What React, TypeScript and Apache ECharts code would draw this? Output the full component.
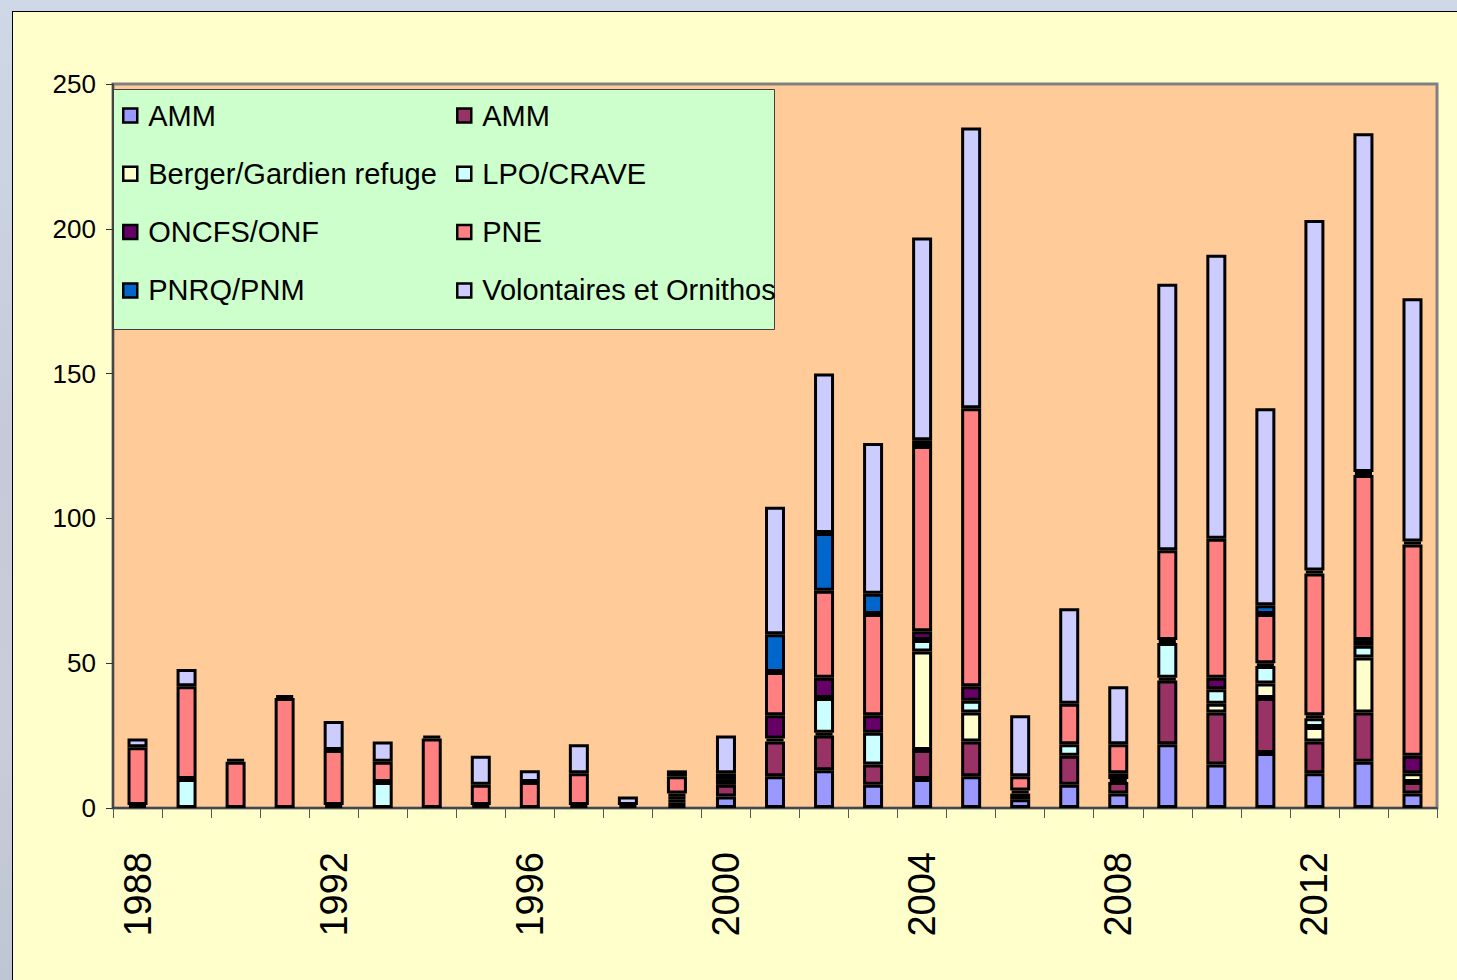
import React, { useEffect, useRef } from "react";
import * as echarts from "echarts";

const years = [
  "1988", "1989", "1990", "1991", "1992", "1993", "1994", "1995", "1996",
  "1997", "1998", "1999", "2000", "2001", "2002", "2003", "2004", "2005",
  "2006", "2007", "2008", "2009", "2010", "2011", "2012", "2013", "2014",
];

const amm1 = [0, 0, 0, 0, 0, 0, 0, 0, 0, 0, 0, 1, 4, 11, 13, 8, 10, 11, 3, 8, 5, 22, 15, 19, 12, 16, 5];
const amm2 = [1, 0, 0, 0, 1, 0, 0, 0, 0, 1, 1, 1, 4, 12, 12, 7, 10, 12, 2, 10, 4, 22, 18, 19, 11, 17, 4];
const berger = [0, 0, 0, 0, 0, 0, 0, 0, 0, 0, 0, 1, 0, 0, 1, 0, 34, 10, 0, 0, 1, 1, 3, 5, 5, 19, 3];
const lpo = [0, 10, 0, 0, 0, 9, 0, 1, 0, 0, 0, 1, 0, 1, 12, 11, 4, 4, 0, 4, 2, 12, 5, 6, 3, 4, 0];
const oncfs = [0, 0, 0, 0, 0, 0, 0, 0, 0, 0, 0, 1, 2, 8, 7, 6, 3, 5, 1, 0, 0, 1, 4, 1, 1, 2, 6];
const pne = [20, 32, 16, 38, 19, 7, 24, 7, 9, 11, 0, 6, 2, 15, 30, 35, 64, 96, 5, 14, 10, 31, 48, 17, 49, 57, 73];
const pnrq = [0, 0, 0, 0, 0, 0, 0, 0, 0, 0, 0, 0, 0, 13, 20, 7, 2, 0, 0, 0, 0, 0, 0, 3, 1, 1, 1];
const volontaires = [3, 6, 1, 1, 10, 7, 1, 10, 4, 10, 3, 2, 13, 44, 55, 52, 70, 97, 21, 33, 20, 92, 98, 68, 121, 117, 84];

const yTicks = { min: 0, max: 250, interval: 50 };

const seriesDefs = [
  { name: "AMM_1", data: amm1, color: "#9999FF" },
  { name: "AMM_2", data: amm2, color: "#993366" },
  { name: "Berger/Gardien refuge", data: berger, color: "#FFFFCC" },
  { name: "LPO/CRAVE", data: lpo, color: "#CCFFFF" },
  { name: "ONCFS/ONF", data: oncfs, color: "#660066" },
  { name: "PNE", data: pne, color: "#FF8080" },
  { name: "PNRQ/PNM", data: pnrq, color: "#0066CC" },
  { name: "Volontaires et Ornithos", data: volontaires, color: "#CCCCFF" },
];

const FONT = "'Liberation Sans', Arial, sans-serif";

export default function App() {
  const ref = useRef<HTMLDivElement>(null);

  useEffect(() => {
    if (!ref.current) return;
    const chart = echarts.init(ref.current, undefined, { renderer: "svg" });

    const legendCommon = {
      orient: "vertical" as const,
      itemWidth: 14,
      itemHeight: 14,
      itemGap: 29.3,
      padding: 0,
      icon: "rect",
      selectedMode: false,
      z: 10,
      itemStyle: { borderColor: "#000", borderWidth: 2.5 },
      formatter: (name: string) => (name.startsWith("AMM") ? "AMM" : name),
      textStyle: {
        fontSize: 29,
        lineHeight: 29,
        fontFamily: FONT,
        color: "#000",
        padding: [0, 0, 0, 6],
      },
    };

    chart.setOption({
      animation: false,
      backgroundColor: "transparent",
      grid: {
        left: 113,
        top: 84,
        right: 20,
        bottom: 172,
        show: true,
        backgroundColor: "#FFCC99",
        borderColor: "#808080",
        borderWidth: 3,
      },
      graphic: [
        {
          type: "rect",
          z: 5,
          shape: { x: 113.5, y: 89.5, width: 661, height: 240 },
          style: { fill: "#CCFFCC", stroke: "#404040", lineWidth: 1 },
        },
      ],
      legend: [
        {
          ...legendCommon,
          left: 122,
          top: 101,
          data: ["AMM_1", "Berger/Gardien refuge", "ONCFS/ONF", "PNRQ/PNM"],
        },
        {
          ...legendCommon,
          left: 456,
          top: 101,
          data: ["AMM_2", "LPO/CRAVE", "PNE", "Volontaires et Ornithos"],
        },
      ],
      xAxis: {
        type: "category",
        data: years,
        boundaryGap: true,
        axisLine: { show: true, lineStyle: { color: "#333", width: 1.5 } },
        axisTick: {
          show: true,
          interval: 0,
          length: 10,
          lineStyle: { color: "#555", width: 1 },
        },
        axisLabel: {
          interval: 3,
          rotate: 90,
          margin: 44,
          fontSize: 38,
          fontFamily: FONT,
          color: "#000",
        },
        splitLine: { show: false },
      },
      yAxis: {
        type: "value",
        min: yTicks.min,
        max: yTicks.max,
        interval: yTicks.interval,
        axisLine: { show: true, lineStyle: { color: "#333", width: 1.5 } },
        axisTick: { show: true, length: 7, lineStyle: { color: "#333", width: 1 } },
        axisLabel: {
          fontSize: 26,
          fontFamily: FONT,
          color: "#000",
          margin: 17,
        },
        splitLine: { show: false },
      },
      series: seriesDefs.map((s) => ({
        name: s.name,
        type: "bar",
        stack: "total",
        barWidth: 20,
        data: s.data.map((v) => (v === 0 ? "-" : v)),
        itemStyle: { color: s.color, borderColor: "#000", borderWidth: 3 },
        emphasis: { disabled: true },
      })),
    });

    return () => chart.dispose();
  }, []);

  return (
    <div
      style={{
        position: "fixed",
        left: 0,
        top: 0,
        width: 1457,
        height: 980,
        overflow: "hidden",
        background:
          "linear-gradient(180deg, #cfd8e6 0%, #c6cad8 45%, #c9ccd9 75%, #bfc5d3 100%)",
      }}
    >
      <div
        style={{
          position: "absolute",
          left: 12,
          top: 11,
          width: 1460,
          height: 990,
          background: "#FFFFCC",
          border: "1px solid #000",
        }}
      />
      <div
        ref={ref}
        style={{ position: "absolute", left: 0, top: 0, width: 1457, height: 980 }}
      />
    </div>
  );
}
